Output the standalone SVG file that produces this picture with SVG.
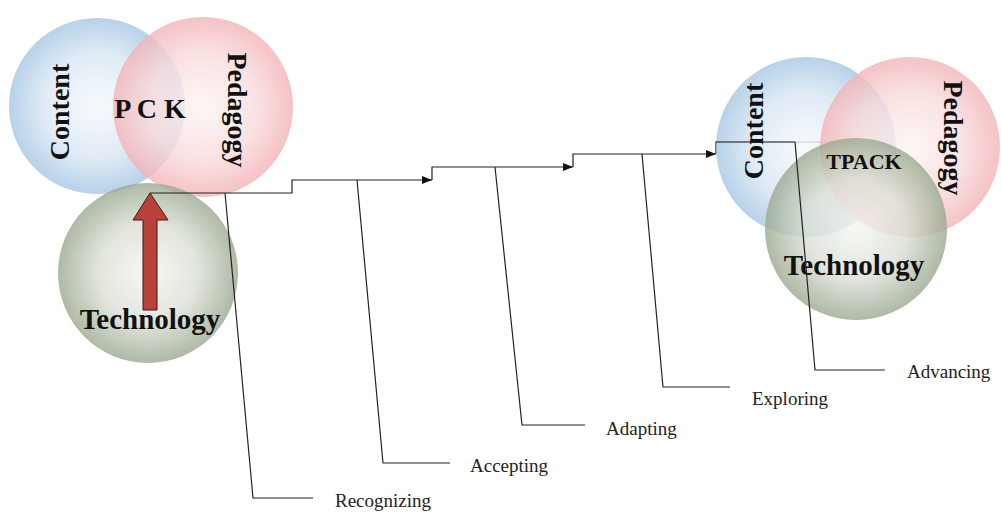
<svg xmlns="http://www.w3.org/2000/svg" width="1001" height="516" viewBox="0 0 1001 516">
<style>
.big{font-family:"Liberation Serif","Times New Roman",serif;font-weight:bold;font-size:28px;fill:#111;}
.lbl{font-family:"Liberation Serif","Times New Roman",serif;font-size:19px;fill:#222;}
.ln{fill:none;stroke:#222;stroke-width:1.2;}
.blue{fill:url(#gBlue);opacity:0.8;}
.pink{fill:url(#gPink);opacity:0.8;}
.green{fill:url(#gGreen);opacity:0.8;}
</style>
<defs>
<radialGradient id="gBlue" cx="0.5" cy="0.5" r="0.5">
<stop offset="0" stop-color="#f6f9fc"/>
<stop offset="0.6" stop-color="#d8e6f3"/>
<stop offset="1" stop-color="#a5c6e4"/>
</radialGradient>
<radialGradient id="gPink" cx="0.5" cy="0.5" r="0.5">
<stop offset="0" stop-color="#fdf5f5"/>
<stop offset="0.6" stop-color="#f9dadb"/>
<stop offset="1" stop-color="#f2b3b6"/>
</radialGradient>
<radialGradient id="gGreen" cx="0.5" cy="0.5" r="0.5">
<stop offset="0" stop-color="#f5f6f2"/>
<stop offset="0.55" stop-color="#dadfd4"/>
<stop offset="1" stop-color="#9aa88f"/>
</radialGradient>
<marker id="ah" viewBox="0 0 10 8" refX="10" refY="4" markerWidth="10" markerHeight="8" markerUnits="userSpaceOnUse" orient="auto">
<path d="M0,0 L10,4 L0,8 Z" fill="#111"/>
</marker>
<marker id="ahg" viewBox="0 0 10 8" refX="10" refY="4" markerWidth="10" markerHeight="8" markerUnits="userSpaceOnUse" orient="auto">
<path d="M0,0 L10,4 L0,8 Z" fill="#8a8a8a"/>
</marker>
</defs>
<rect width="1001" height="516" fill="#ffffff"/>

<g id="pck-venn">
<g id="content-left"><circle class="blue" cx="97" cy="106" r="88"/></g>
<g id="pedagogy-left"><circle class="pink" cx="203" cy="107" r="90"/></g>
<g id="technology-left"><circle class="green" cx="148" cy="273" r="90"/></g>
<text class="big" transform="translate(69,112) rotate(-90)" text-anchor="middle">Content</text>
<text class="big" transform="translate(228,110) rotate(90)" text-anchor="middle">Pedagogy</text>
<text id="pck" class="big" x="150" y="118" text-anchor="middle">P C K</text>
<text class="big" x="150" y="329" text-anchor="middle" style="font-size:29px">Technology</text>
<path id="red-arrow" d="M143,310 V220 H133 L150,193 L168,220 H157 V310 Z" fill="#b9413a" stroke="#3a1a18" stroke-width="1"/>
</g>

<g id="connectors">
<path class="ln" d="M150,193 H292 V180 H432" marker-end="url(#ah)"/>
<path class="ln" d="M432,180 V167 H573" marker-end="url(#ah)"/>
<path class="ln" d="M573,167 V154 H716" marker-end="url(#ah)"/>
<path class="ln" d="M716,154 V142 H856" stroke="#555" marker-end="url(#ahg)"/>
<path class="ln" d="M225,193 L253,498 H313"/>
<path class="ln" d="M357,180 L383,463 H450"/>
<path class="ln" d="M495,167 L522,425 H585"/>
<path class="ln" d="M642,154 L663,387 H730"/>
</g>

<g id="tpack-venn">
<g id="content-right"><circle class="blue" cx="806" cy="147" r="90"/></g>
<g id="pedagogy-right"><circle class="pink" cx="910" cy="147" r="90"/></g>
<g id="technology-right"><circle class="green" cx="856" cy="229" r="91"/></g>
<text class="big" transform="translate(763,131) rotate(-90)" text-anchor="middle">Content</text>
<text class="big" transform="translate(944,138) rotate(90)" text-anchor="middle">Pedagogy</text>
<text id="tpack" class="big" x="864" y="169" text-anchor="middle" style="font-size:22px">TPACK</text>
<text class="big" x="854" y="275" text-anchor="middle" style="font-size:29px">Technology</text>
</g>

<g id="connectors-top">
<path class="ln" d="M716,142 H795"/>
<path class="ln" d="M795,142 L815,370 H885"/>
</g>

<g id="labels">
<text id="recognizing" class="lbl" x="335" y="507">Recognizing</text>
<text id="accepting" class="lbl" x="470" y="472">Accepting</text>
<text id="adapting" class="lbl" x="606" y="435">Adapting</text>
<text id="exploring" class="lbl" x="752" y="405">Exploring</text>
<text id="advancing" class="lbl" x="907" y="378">Advancing</text>
</g>
</svg>
